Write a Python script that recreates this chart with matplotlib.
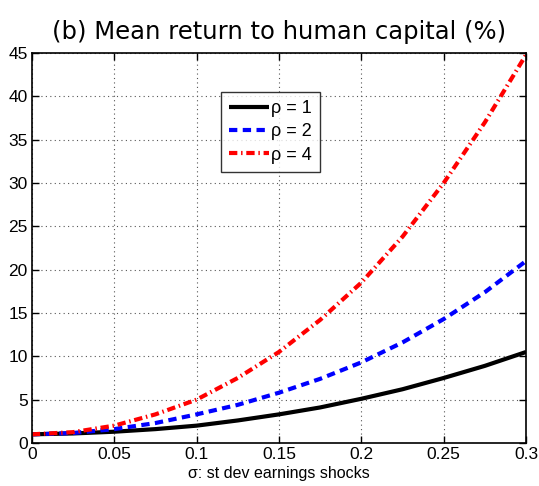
import matplotlib
matplotlib.use("Agg")
import matplotlib.pyplot as plt
import numpy as np

sigma = [0.0, 0.025, 0.05, 0.075, 0.1, 0.125, 0.15, 0.175, 0.2, 0.225, 0.25, 0.275, 0.3]
rho1 = [1.0, 1.1, 1.3, 1.6, 2.0, 2.6, 3.3, 4.1, 5.1, 6.2, 7.5, 8.9, 10.5]
rho2 = [1.0, 1.15, 1.6, 2.3, 3.3, 4.4, 5.8, 7.4, 9.3, 11.6, 14.3, 17.4, 21.0]
rho4 = [1.0, 1.25, 2.0, 3.3, 5.0, 7.5, 10.5, 14.2, 18.5, 23.8, 30.0, 37.0, 44.8]
xticks = [0, 0.05, 0.1, 0.15, 0.2, 0.25, 0.3]
xticklabels = ["0", "0.05", "0.1", "0.15", "0.2", "0.25", "0.3"]
yticks = [0, 5, 10, 15, 20, 25, 30, 35, 40, 45]

plt.rcParams['font.family'] = ['Liberation Sans', 'DejaVu Sans']
fig = plt.figure(figsize=(5.39, 4.86), dpi=100)
ax = fig.add_axes([0.059, 0.0885, 0.917, 0.8025])

ax.plot(sigma, rho1, color='black', lw=3.0, label='ρ = 1', solid_capstyle='butt')
ax.plot(sigma, rho2, color='blue', lw=3.0, ls=(0, (2.0, 1.3)), label='ρ = 2')
ax.plot(sigma, rho4, color='red', lw=3.0, ls=(0, (2.0, 0.9, 0.35, 0.9)), label='ρ = 4')

ax.set_xlim(0, 0.3)
ax.set_ylim(0, 45)
ax.set_xticks(xticks)
ax.set_xticklabels(xticklabels)
ax.set_yticks(yticks)
ax.tick_params(direction='in', top=True, right=True, labelsize=12.5, length=5, width=1, pad=3)
ax.grid(True, ls=(0, (1, 3)), color='#555555', lw=0.8)
for s in ax.spines.values():
    s.set_linewidth(1.2)

ax.set_xlabel('σ: st dev earnings shocks', fontsize=11.5, labelpad=3)
ax.set_title('(b) Mean return to human capital (%)', fontsize=17.5, family=['DejaVu Sans'], pad=10)

leg = ax.legend(loc='upper left', bbox_to_anchor=(0.383, 0.9), fontsize=13, frameon=True,
                fancybox=False, edgecolor='black', handlelength=2.2, handletextpad=0.1,
                borderpad=0.45, labelspacing=0.35, borderaxespad=0)
leg.get_frame().set_linewidth(1.0)

fig.savefig('out.png', dpi=100)
